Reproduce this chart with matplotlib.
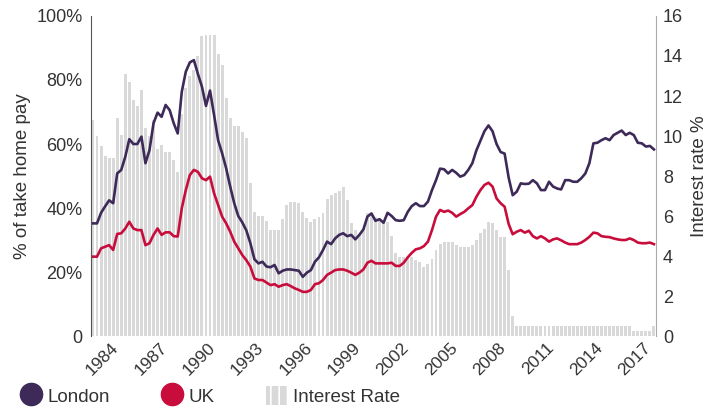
import numpy as np
import matplotlib
matplotlib.use('Agg')
import matplotlib.pyplot as plt
from matplotlib.lines import Line2D
from matplotlib.patches import Patch

plt.rcParams['font.family'] = ['Liberation Sans', 'DejaVu Sans']
plt.rcParams['text.color'] = '#333333'
plt.rcParams['axes.labelcolor'] = '#333333'
plt.rcParams['xtick.color'] = '#333333'
plt.rcParams['ytick.color'] = '#333333'
plt.rcParams['hatch.linewidth'] = 1.2

# quarterly series, 1983 Q1 - 2017 Q4
years = [1984, 1987, 1990, 1993, 1996, 1999, 2002, 2005, 2008, 2011, 2014, 2017]

london = [35.2, 35.2, 38.5, 40.5, 42.4, 41.5, 50.8, 51.9, 56.0, 61.5,
          60.0, 60.0, 62.3, 54.0, 58.1, 66.5, 69.8, 68.5, 72.2, 70.6,
          66.5, 63.3, 76.3, 82.6, 85.5, 86.2, 81.9, 77.9, 71.9, 76.7,
          69.1, 61.2, 57.1, 52.4, 46.7, 41.5, 37.5, 35.5, 33.0, 29.0,
          24.0, 22.7, 23.2, 21.7, 21.5, 22.2, 19.6, 20.4, 20.8, 20.8,
          20.6, 20.4, 18.5, 19.8, 20.6, 23.2, 24.6, 26.9, 29.5, 28.7,
          30.5, 31.6, 32.1, 31.2, 31.6, 30.2, 31.6, 33.3, 37.3, 38.3,
          36.0, 36.5, 35.4, 38.5, 37.5, 36.2, 36.0, 36.2, 38.8, 40.6,
          41.5, 40.6, 40.6, 42.0, 45.6, 48.7, 52.3, 52.1, 50.8, 51.9,
          51.0, 49.8, 50.3, 51.9, 54.0, 58.0, 61.0, 64.0, 65.8, 64.0,
          60.0, 57.5, 57.0, 49.5, 44.0, 45.1, 47.7, 47.5, 47.6, 48.7,
          47.7, 45.6, 45.6, 48.2, 46.7, 46.1, 45.8, 48.7, 48.7, 48.2,
          48.2, 49.3, 50.8, 54.0, 60.2, 60.4, 61.2, 61.8, 61.2, 62.8,
          63.5, 64.2, 62.8, 63.5, 62.8, 60.4, 60.2, 59.2, 59.4, 58.3]

uk = [24.8, 24.8, 27.4, 27.9, 28.4, 26.9, 31.9, 32.1, 33.6, 35.7,
      33.6, 33.1, 33.1, 28.4, 29.0, 31.6, 33.6, 31.6, 32.4, 32.4,
      31.2, 31.1, 39.9, 45.6, 50.3, 51.9, 51.3, 49.3, 48.7, 49.8,
      44.6, 40.9, 37.3, 35.2, 32.6, 29.5, 27.4, 25.3, 23.7, 21.7,
      18.0, 17.5, 17.5, 16.7, 15.9, 16.2, 15.4, 15.9, 16.2, 15.6,
      14.9, 14.4, 13.8, 13.8, 14.4, 16.2, 16.5, 17.5, 19.1, 19.8,
      20.6, 20.8, 20.8, 20.4, 19.8, 19.1, 19.8, 20.8, 22.9, 23.5,
      22.7, 22.7, 22.7, 22.7, 22.9, 21.9, 21.9, 22.9, 24.6, 26.0,
      27.1, 27.4, 28.1, 29.5, 33.1, 37.3, 39.4, 38.8, 39.2, 38.5,
      37.3, 38.1, 38.8, 39.9, 40.9, 43.5, 45.6, 47.2, 47.9, 46.7,
      43.0, 41.5, 40.4, 35.0, 31.8, 32.6, 33.1, 32.3, 32.9, 31.2,
      30.5, 31.2, 30.5, 29.5, 30.2, 30.5, 29.9, 29.2, 28.7, 28.7,
      28.7, 29.2, 30.0, 31.0, 32.3, 32.1, 31.2, 31.0, 30.9, 30.5,
      30.2, 30.0, 30.0, 30.5, 30.0, 29.2, 29.0, 29.0, 29.2, 28.7]

rate = [10.8, 10.0, 9.5, 9.0, 8.9, 8.9, 10.9, 10.05, 13.1, 12.7,
        11.8, 11.5, 12.3, 10.4, 10.0, 10.8, 9.35, 9.55, 9.2, 9.2,
        8.8, 8.2, 11.1, 12.4, 13.0, 13.3, 14.0, 15.0, 15.07, 15.07,
        15.07, 14.1, 13.55, 11.9, 10.9, 10.5, 10.5, 10.2, 9.9, 7.67,
        6.2, 6.0, 6.0, 5.77, 5.3, 5.3, 5.3, 5.85, 6.55, 6.7,
        6.7, 6.63, 6.18, 5.88, 5.68, 5.85, 5.93, 6.13, 6.85, 7.05,
        7.17, 7.27, 7.43, 6.8, 5.67, 5.3, 5.1, 5.33, 6.13, 6.0,
        5.95, 5.8, 5.7, 5.7, 5.0, 4.17, 3.93, 3.93, 3.93, 3.93,
        3.8, 3.7, 3.43, 3.6, 3.83, 4.3, 4.6, 4.7, 4.7, 4.7,
        4.55, 4.43, 4.43, 4.43, 4.57, 4.8, 5.13, 5.33, 5.7, 5.65,
        5.3, 4.97, 4.95, 3.3, 1.0, 0.5, 0.5, 0.5, 0.5, 0.5,
        0.5, 0.5, 0.5, 0.5, 0.5, 0.5, 0.5, 0.5, 0.5, 0.5,
        0.5, 0.5, 0.5, 0.5, 0.5, 0.5, 0.5, 0.5, 0.5, 0.5,
        0.5, 0.5, 0.5, 0.5, 0.25, 0.25, 0.25, 0.25, 0.25, 0.5]

london_c = '#3d2a58'
uk_c = '#c80d3c'
bar_c = '#d9d9d9'


def main():
    fig = plt.figure(figsize=(7.09, 4.07), dpi=100)
    ax = fig.add_axes([0.1283, 0.1744, 0.7969, 0.7863])
    ax2 = ax.twinx()
    ax.set_zorder(ax2.get_zorder() + 1)
    ax.patch.set_visible(False)

    x = np.arange(len(rate))
    ax2.bar(x, rate, width=0.72, color=bar_c, linewidth=0)
    ax.plot(x, london, color=london_c, lw=1.9, solid_joinstyle='round')
    ax.plot(x, uk, color=uk_c, lw=1.9, solid_joinstyle='round')

    ax.set_xlim(-0.5, len(rate) - 0.5)
    ax.set_ylim(0, 100)
    ax2.set_ylim(0, 16)

    ax.set_yticks([0, 20, 40, 60, 80, 100])
    ax.set_yticklabels(['0', '20%', '40%', '60%', '80%', '100%'], fontsize=13)
    ax2.set_yticks(range(0, 17, 2))
    ax2.set_yticklabels([str(v) for v in range(0, 17, 2)], fontsize=13)

    tick_idx = [(y - 1983) * 4 + 3 for y in years]
    ax.set_xticks(tick_idx)
    ax.set_xticklabels([str(y) for y in years], rotation=45, ha='right',
                       fontsize=12.5)

    ax.tick_params(length=0, pad=6)
    ax.tick_params(axis='x', pad=3)
    ax2.tick_params(length=0, pad=5)

    ax.set_ylabel('% of take home pay', fontsize=13.5, labelpad=4)
    ax2.set_ylabel('Interest rate %', fontsize=13.5, labelpad=6)

    for a in (ax, ax2):
        for s in a.spines.values():
            s.set_visible(False)
    ax.spines['left'].set_visible(True)
    ax.spines['left'].set_linestyle((0, (1, 1)))
    ax.spines['left'].set_color('#555555')
    ax.spines['left'].set_linewidth(0.8)
    ax2.spines['right'].set_visible(True)
    ax2.spines['right'].set_linestyle((0, (1, 1)))
    ax2.spines['right'].set_color('#aaaaaa')
    ax2.spines['right'].set_linewidth(0.8)

    handles = [
        Line2D([], [], marker='o', ls='none', ms=16, color=london_c, label='London'),
        Line2D([], [], marker='o', ls='none', ms=16, color=uk_c, label='UK'),
        Patch(facecolor=bar_c, edgecolor='white', hatch='||', lw=0, label='Interest Rate'),
    ]
    fig.legend(handles=handles, loc='center left', bbox_to_anchor=(0.028, 0.027),
               ncol=3, frameon=False, fontsize=13.5, handlelength=1.2,
               handleheight=1.2, handletextpad=0.25, columnspacing=2.75,
               borderpad=0, borderaxespad=0)

    fig.savefig('out.png', dpi=100)


if __name__ == '__main__':
    main()
